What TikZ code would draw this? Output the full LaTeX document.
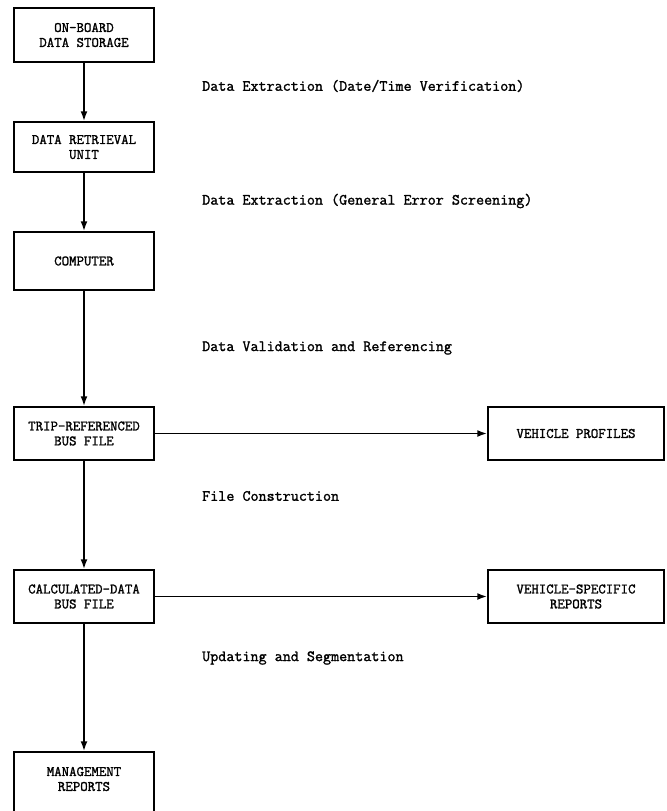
\documentclass[tikz,border=0pt]{standalone}
\usepackage{fontspec}
\setmonofont[AutoFakeBold=1.5]{Latin Modern Mono}
\usetikzlibrary{arrows.meta}
\tikzset{
  boxfont/.style={font=\ttfamily\bfseries\fontsize{14.5}{15}\selectfont},
  box/.style={draw, line width=1.5pt, minimum width=140bp, align=center, inner sep=0pt, boxfont},
  rbox/.style={box, minimum width=176bp},
  lbl/.style={anchor=west, inner sep=0pt, font=\ttfamily\bfseries\fontsize{15.7}{15}\selectfont},
  conn/.style={line width=1.9pt, -{Latex[length=10bp,width=7bp]}}
}
\begin{document}
\begin{tikzpicture}[x=1bp,y=-1bp]
\clip (0,0) rectangle (667,811);
\fill[white] (0,0) rectangle (667,811);
\node[box, minimum height=54bp] (b1) at (84,35) {ON-BOARD\\DATA STORAGE};
\node[box, minimum height=50bp] (b2) at (84,147) {DATA RETRIEVAL\\UNIT};
\node[box, minimum height=58bp] (b3) at (84,261) {COMPUTER};
\node[box, minimum height=53bp] (b4) at (84,433.5) {TRIP-REFERENCED\\BUS FILE};
\node[box, minimum height=53bp] (b5) at (84,596.5) {CALCULATED-DATA\\BUS FILE};
\node[box, minimum height=72bp] (b6) at (84,788) {};
\node[boxfont, align=center, inner sep=0pt] (b6t) at (84,779) {MANAGEMENT\\REPORTS};
\node[rbox, minimum height=53bp] (r4) at (576,433.5) {VEHICLE PROFILES};
\node[rbox, minimum height=53bp] (r5) at (576,596.5) {VEHICLE-SPECIFIC\\REPORTS};

\node[lbl] (l1) at (202,86) {Data Extraction (Date/Time Verification)};
\node[lbl] (l2) at (202,201) {Data Extraction (General Error Screening)};
\node[lbl] (l3) at (202,348) {Data Validation and Referencing};
\node[lbl] (l4) at (202,496) {File Construction};
\node[lbl] (l5) at (202,658) {Updating and Segmentation};

\draw[conn] (b1) -- (b2);
\draw[conn] (b2) -- (b3);
\draw[conn] (b3) -- (b4);
\draw[conn] (b4) -- (b5);
\draw[conn] (b5) -- (b6);
\draw[conn] (b4) -- (r4);
\draw[conn] (b5) -- (r5);
\end{tikzpicture}
\end{document}
